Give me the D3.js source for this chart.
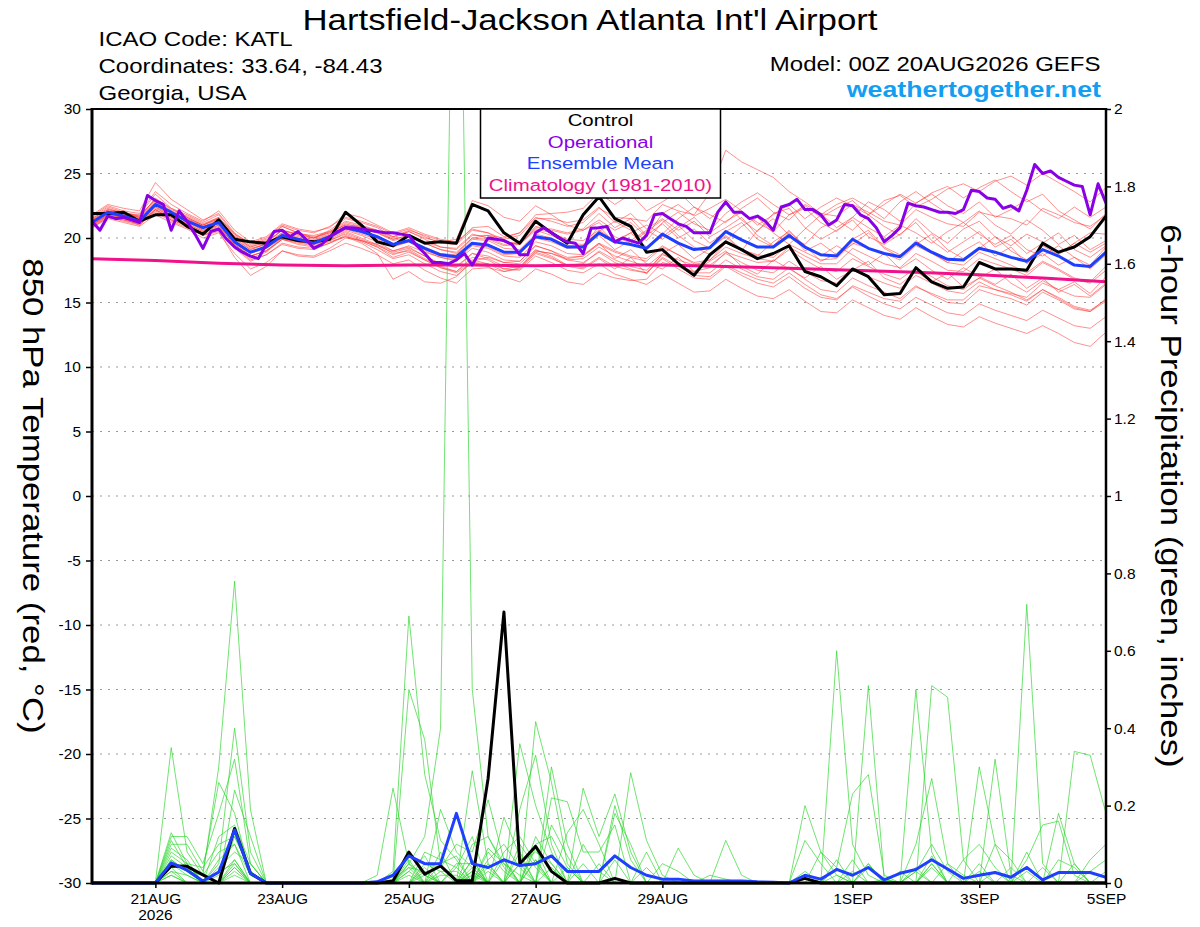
<!DOCTYPE html>
<html>
<head>
<meta charset="utf-8">
<script src="https://cdn.jsdelivr.net/npm/d3@7"></script>
<style>
  body { margin: 0; background: #fff; }
  svg text { font-family: "Liberation Sans", Arial, Helvetica, sans-serif; }
</style>
</head>
<body>
<svg id="chart" width="1200" height="927"></svg>
<script>
// ---- run / time info ----
const runStart = Date.UTC(2026, 7, 20, 0);   // 00Z 20AUG2026
const runEnd = Date.UTC(2026, 8, 5, 0);      // 00Z 05SEP2026
const HOUR = 3600 * 1000;

// ---- axis ticks ----
const tempTicks = [-30, -25, -20, -15, -10, -5, 0, 5, 10, 15, 20, 25, 30];
const gridTemps = [-25, -20, -15, -10, -5, 0, 5, 10, 15, 20, 25];
const precipTicks = [0, 0.2, 0.4, 0.6, 0.8, 1, 1.2, 1.4, 1.6, 1.8, 2];
const precipLabels = ["0", "0.2", "0.4", "0.6", "0.8", "1", "1.2", "1.4", "1.6", "1.8", "2"];
const dateTicks = ["2026-08-21", "2026-08-23", "2026-08-25", "2026-08-27", "2026-08-29", "2026-09-01", "2026-09-03", "2026-09-05"];
const dateLabels = ["21AUG", "23AUG", "25AUG", "27AUG", "29AUG", "1SEP", "3SEP", "5SEP"];

// ---- 850 hPa temperature (C), 6-hourly from 00Z 20AUG ----
const controlTemp = [
  21.9,21.9,22.0,21.3,21.8,21.8,20.9,20.3, 21.4,19.9,19.7,19.6,20.1,19.8,19.7,19.9,
  22.0,21.0,19.7,19.4,20.2,19.6,19.7,19.6, 22.6,22.1,20.4,19.6,21.3,20.4,19.6,21.8,
  23.2,21.5,20.9,18.9,19.1,18.0,17.1,18.7, 19.7,19.1,18.4,18.8,19.4,17.4,17.0,16.3,
  17.6,17.0,15.6,15.7,17.7,16.6,16.1,16.2, 18.1,17.6,17.6,17.5,19.6,18.9,19.3,20.1,
  21.7];
const meanTemp = [
  21.2,22.0,21.7,21.3,22.6,22.0,21.3,20.8, 21.2,19.7,18.9,19.3,20.2,19.9,19.6,20.1,
  20.8,20.5,20.1,19.5,19.8,19.2,18.7,18.55, 19.6,19.45,18.9,18.9,20.1,19.9,19.3,19.3,
  20.4,19.7,19.5,19.2,20.3,19.6,19.1,19.25, 20.5,19.85,19.3,19.3,20.2,19.3,18.7,18.6,
  19.9,19.2,18.8,18.55,19.6,18.9,18.35,18.3, 19.2,18.9,18.5,18.2,19.1,18.6,17.9,17.8,
  18.9];
// operational run, 3-hourly
const operTemp = [
  21.3,20.6,21.7,21.5,21.6,21.4,21.2,23.3, 22.9,22.6,20.6,22.1,21.3,20.3,19.2,20.5,
  20.7,19.9,19.3,18.9,18.6,18.4,19.5,20.5, 20.6,20.1,20.5,19.9,19.2,19.5,20.1,20.5,
  20.8,20.8,20.7,20.6,20.5,20.4,20.4,20.3, 20.2,19.4,18.8,18.1,18.1,18.0,18.3,18.8,
  17.9,19.0,20.0,19.9,19.8,19.5,18.7,18.7, 20.4,20.8,20.4,20.0,19.7,19.6,18.8,20.75,
  20.8,20.9,19.7,20.0,19.8,19.6,20.2,21.8, 21.9,21.5,21.1,20.9,20.4,20.4,20.4,22.0,
  22.8,22.0,22.0,21.5,21.7,21.3,20.6,22.4, 22.6,23.0,22.2,22.2,21.8,21.0,21.4,22.6,
  22.5,21.8,21.5,20.8,19.7,20.2,20.8,22.7, 22.5,22.4,22.2,22.0,22.0,21.9,22.2,23.7,
  23.6,23.1,23.0,22.3,22.5,22.1,23.7,25.7, 25.0,25.2,24.7,24.4,24.1,24.0,21.8,24.2,
  22.7];
// 1981-2010 climatology, daily
const climoTemp = [18.4,18.25,18.05,17.9,17.85,17.9,17.9,17.85,17.9,17.9,17.8,17.65,17.5,17.35,17.15,16.9,16.6];

// ensemble members, 6-hourly
const memberTemp = [
  [21.5,22.3,21.9,21.8,23.4,22.3,21.6,21.0, 21.6,20.3,19.4,19.8,20.9,20.4,20.0,20.6, 21.5,21.2,20.8,20.1,20.6,20.2,19.8,19.6,
   20.8,20.9,20.1,20.4,21.6,21.3,20.9,21.2, 22.3,21.6,21.5,21.3,22.6,22.1,21.8,23.5, 26.8,25.9,25.3,24.7,23.6,22.8,21.9,21.7,
   22.6,22.0,21.3,21.0,22.2,21.6,21.1,20.9, 22.0,21.7,21.5,21.0,22.3,21.8,21.2,20.9, 21.8],
  [20.9,21.7,21.5,21.0,22.1,21.4,21.0,20.3, 20.6,19.2,18.2,18.7,19.5,19.2,19.1,19.6, 20.1,19.8,19.3,18.5,18.9,18.3,17.7,17.4,
   18.5,18.3,17.6,17.5,18.6,18.1,17.5,17.3, 18.0,17.2,16.8,16.4,17.2,16.5,15.8,15.9, 16.8,16.1,15.5,15.3,16.0,15.1,14.3,14.2,
   15.2,14.6,14.0,13.7,14.6,13.9,13.3,13.1, 13.9,13.4,13.0,12.6,13.2,12.6,11.9,11.6, 12.7],
  [21.0,21.8,21.9,21.6,22.9,22.0,21.5,21.0, 21.5,20.0,19.1,19.6,20.6,20.3,20.0,20.5, 21.0,20.9,20.6,20.0,20.5,19.9,19.3,19.2,
   20.3,20.0,19.5,19.6,20.9,20.6,20.3,20.6, 21.4,20.6,21.2,20.1,21.9,22.6,21.7,22.3, 23.0,22.1,21.0,21.8,22.6,21.5,22.4,23.1,
   22.5,21.8,22.9,23.3,22.4,23.0,23.8,24.2, 23.6,24.4,24.8,24.1,25.0,24.3,23.6,22.8, 23.9],
  [21.3,21.9,21.5,21.2,22.3,21.7,21.1,20.5, 21.0,19.4,18.4,18.9,19.9,19.5,19.3,19.8, 20.3,19.8,19.3,18.7,19.1,18.4,17.8,17.4,
   18.3,18.0,17.4,17.6,18.8,18.4,17.9,18.0, 19.0,18.3,17.8,17.5,18.7,18.3,17.9,18.3, 19.6,19.1,18.7,18.5,19.5,18.9,18.3,18.4,
   19.6,19.2,18.8,18.3,19.4,18.8,18.1,17.9, 18.9,18.4,17.9,17.3,18.2,17.6,16.9,16.6, 17.8],
  [21.6,22.4,22.0,21.7,23.0,22.3,21.8,21.2, 21.8,20.3,19.6,20.0,21.0,20.6,20.4,20.9, 21.6,21.3,20.9,20.3,20.7,20.1,19.6,19.5,
   20.6,20.4,19.9,20.2,21.5,21.5,21.2,21.4, 22.4,21.2,21.9,20.7,21.5,20.6,21.3,20.1, 20.8,21.6,20.2,19.4,20.6,19.3,18.6,19.4,
   18.7,17.9,18.8,17.6,18.4,17.5,16.8,17.7, 17.0,16.4,17.2,16.1,16.9,15.8,16.4,15.5, 16.5],
  [20.8,21.5,21.2,20.9,21.8,21.2,20.7,20.0, 20.4,18.8,17.6,18.1,19.0,18.6,18.5,19.0, 19.6,19.2,18.7,18.0,18.3,17.5,16.9,16.5,
   17.6,17.7,17.4,17.7,19.0,18.8,18.3,18.4, 19.3,18.6,18.2,17.8,18.8,18.0,17.3,17.3, 18.3,17.6,17.0,16.8,17.7,16.8,16.0,15.8,
   16.9,16.3,15.8,15.3,16.3,15.6,15.0,14.9, 16.0,15.6,15.3,14.8,15.8,15.2,14.5,14.3, 15.3],
  [21.8,22.6,22.3,22.1,24.3,23.0,22.2,21.4, 21.9,20.4,19.5,19.9,20.9,20.4,20.1,20.4, 21.0,20.6,20.1,19.4,19.8,19.3,18.8,18.7,
   19.9,19.8,19.2,19.1,20.3,20.0,19.4,19.4, 20.9,19.6,20.4,21.0,20.3,21.5,22.4,21.8, 21.2,22.3,23.1,22.0,21.4,22.6,21.9,20.8,
   21.6,22.8,22.2,21.3,22.7,23.4,22.5,21.9, 22.8,21.6,22.2,23.0,22.1,21.5,22.4,21.6, 22.4],
  [21.1,21.8,21.6,21.3,22.4,21.6,21.2,20.6, 21.3,19.7,18.6,19.0,19.9,19.7,19.6,20.0, 20.6,20.2,19.7,19.0,19.3,18.6,18.0,17.8,
   18.8,18.4,17.8,17.7,18.9,18.5,17.8,17.6, 18.4,17.6,18.5,17.2,18.8,19.5,18.4,19.2, 20.1,19.0,20.6,21.5,20.2,19.5,20.8,21.4,
   20.6,21.8,20.9,20.2,21.5,20.4,19.6,20.7, 21.3,20.1,19.4,20.3,19.7,18.8,19.6,20.4, 20.3],
  [21.4,22.1,21.8,21.6,22.7,22.0,21.5,20.9, 21.4,20.1,19.2,19.5,20.4,20.1,19.9,20.3, 21.1,20.8,20.4,19.9,20.2,19.7,19.3,19.1,
   20.2,20.2,19.7,19.6,20.7,20.4,19.9,19.8, 20.6,19.8,20.4,19.3,20.1,21.0,19.8,19.2, 20.2,19.1,18.6,19.7,20.5,19.4,18.2,18.8,
   19.9,20.6,19.3,18.7,19.5,20.3,19.1,18.4, 19.2,20.1,19.0,18.3,19.4,18.7,19.6,18.9, 19.6],
  [20.9,21.6,21.3,21.0,22.2,21.5,21.0,20.4, 20.8,19.5,18.6,19.0,19.9,19.6,19.4,19.7, 20.1,19.6,18.8,16.8,17.4,16.6,16.5,17.0,
   18.2,18.5,18.1,18.0,19.1,18.6,17.9,17.7, 18.5,17.8,17.5,17.3,18.5,17.8,17.1,17.0, 17.9,17.3,16.8,16.5,17.3,16.4,15.6,15.3,
   16.2,15.5,14.9,14.5,15.4,14.8,14.2,14.0, 14.9,14.4,14.0,13.6,14.4,13.8,13.2,13.0, 13.9],
  [21.2,22.0,21.8,21.5,22.8,22.0,21.4,20.8, 21.1,19.9,19.1,19.5,20.4,20.0,19.8,20.2, 20.9,20.7,20.4,19.8,20.1,19.6,19.1,18.8,
   20.0,20.2,20.0,20.4,21.8,21.9,22.0,22.3, 23.5,22.6,23.4,22.1,22.8,23.6,22.4,21.5, 22.6,21.4,20.5,21.9,22.3,20.8,19.9,20.6,
   21.4,20.1,19.5,20.3,21.2,19.8,18.9,19.7, 20.5,19.3,19.9,18.8,19.6,20.4,19.1,18.5, 19.4],
  [21.0,21.7,21.4,21.1,22.2,21.4,20.9,20.2, 20.5,18.5,17.1,17.8,19.0,18.7,18.6,19.2, 20.0,19.8,19.5,19.0,19.4,18.9,18.5,18.3,
   19.4,19.2,18.6,18.5,19.7,19.4,18.8,18.7, 19.6,18.4,19.1,18.0,17.6,18.5,17.4,18.2, 19.0,17.8,17.2,18.3,17.6,16.9,17.8,16.8,
   17.5,18.2,16.9,16.4,17.4,16.6,17.3,16.2, 16.9,17.6,16.5,15.8,16.7,16.0,16.6,15.7, 17.0],
  [21.5,22.2,22.0,21.6,23.1,22.2,21.7,21.1, 21.6,20.2,19.3,19.7,20.6,20.3,20.2,20.5, 21.3,21.0,20.6,20.1,20.5,20.0,19.7,19.9,
   22.9,22.5,21.6,21.3,22.5,21.8,21.0,20.6, 21.2,20.1,19.6,20.5,21.4,20.2,19.3,18.7, 19.8,20.9,21.6,20.4,19.5,20.7,21.8,22.6,
   23.1,22.4,21.5,22.8,23.6,22.7,21.9,21.2, 22.1,21.0,20.3,21.4,20.6,19.5,20.2,19.1, 19.8],
  [21.1,21.9,21.6,21.3,22.4,21.8,21.3,20.6, 21.0,19.6,18.8,19.2,20.0,19.7,19.5,19.9, 20.5,20.0,19.5,18.8,19.0,18.3,17.7,17.3,
   18.1,17.8,17.0,16.6,17.6,17.2,16.6,16.4, 17.3,16.9,16.7,16.8,18.1,17.8,17.4,17.7, 18.9,18.5,18.1,18.2,19.3,18.6,18.0,18.0,
   19.2,18.6,18.0,17.7,18.8,18.2,17.5,17.4, 18.4,18.0,17.6,17.1,18.1,17.5,16.8,16.5, 17.5],
  [21.3,22.1,21.7,21.5,22.6,22.0,21.4,20.9, 21.2,19.8,18.9,19.4,20.3,19.9,19.6,20.0, 20.7,20.3,19.9,19.3,19.7,19.1,18.6,18.4,
   19.5,19.3,18.7,18.8,20.0,19.7,19.2,19.3, 20.2,19.1,19.8,20.6,19.9,20.8,21.6,20.4, 21.3,22.0,21.2,20.5,21.8,22.5,21.6,22.3,
   22.9,21.8,22.6,23.4,22.7,23.5,24.0,23.1, 23.9,24.5,23.6,22.8,23.4,22.1,21.4,20.7, 21.9],
  [21.2,21.9,21.6,21.4,22.5,21.8,21.3,20.7, 21.2,19.8,18.9,19.3,20.3,19.9,19.8,20.2, 20.9,20.5,20.0,19.4,19.7,19.0,18.5,18.2,
   19.2,18.9,18.3,18.2,19.4,19.0,18.3,18.1, 18.9,18.1,17.6,17.3,18.4,17.6,16.9,16.8, 17.8,17.1,16.5,16.2,17.0,16.1,15.4,15.2,
   16.3,15.8,15.3,15.1,16.2,15.7,15.2,15.2, 16.3,16.0,15.7,15.4,16.5,16.0,15.5,15.4, 16.4],
  [21.7,22.5,22.1,21.9,23.6,22.6,21.9,21.3, 22.1,20.6,19.7,20.1,21.1,20.7,20.5,20.8, 21.9,21.6,21.0,20.4,20.8,20.3,19.9,19.7,
   20.7,20.4,19.7,19.5,20.6,20.2,19.6,19.5, 20.5,21.3,20.6,19.8,21.2,22.0,21.1,20.6, 21.9,22.8,23.5,22.6,21.8,22.3,21.2,20.5,
   21.6,20.8,20.1,21.0,20.4,19.6,20.5,21.2, 20.3,19.5,20.2,19.1,18.6,19.4,18.5,17.9, 19.3],
  [21.0,21.8,21.5,21.2,22.2,21.6,21.1,20.5, 20.9,19.5,18.6,19.0,20.0,19.7,19.5,19.8, 20.4,19.9,19.4,18.9,19.2,18.6,18.0,17.7,
   18.8,18.6,18.1,18.2,19.4,19.0,18.5,18.6, 19.6,19.0,18.6,18.4,19.4,18.7,18.0,17.9, 18.8,18.1,17.5,17.3,18.2,17.4,16.7,16.5,
   17.5,17.0,16.5,16.1,17.1,16.5,15.9,15.7, 16.6,16.0,15.6,15.1,16.0,15.3,14.6,14.3, 15.1],
  [21.4,22.2,21.9,21.7,23.0,22.1,21.6,21.0, 21.5,20.1,19.3,19.7,20.6,20.2,20.0,20.4, 21.2,20.9,20.5,19.9,20.2,19.6,19.1,18.9,
   20.0,19.9,19.4,19.5,20.8,20.7,20.4,20.7, 21.9,20.8,21.5,20.2,21.1,20.0,20.7,19.6, 20.5,21.2,19.9,19.3,20.4,19.0,19.6,18.7,
   19.5,20.4,19.2,18.5,19.8,18.9,18.1,19.0, 19.7,18.6,19.3,18.0,18.8,17.9,18.5,17.6, 18.7],
  [20.8,21.6,21.4,21.1,22.0,21.3,20.8,20.2, 20.7,19.3,18.3,18.7,19.6,19.3,19.2,19.6, 20.2,19.7,19.1,18.4,18.7,18.0,17.4,17.1,
   18.1,18.0,17.6,17.8,19.0,18.8,18.4,18.6, 19.5,18.9,18.5,18.2,19.3,18.7,18.1,18.3, 19.3,18.8,18.4,18.2,19.1,18.3,17.6,17.4,
   18.4,17.8,17.2,16.8,17.7,17.0,16.3,16.0, 16.9,16.3,15.8,15.2,16.0,15.4,14.7,14.4, 15.2]
];

// ---- 6-hour precipitation (inches), 6-hourly ----
const controlPrecip = [
  0,0,0,0,0,0.044,0.043,0.021, 0,0.141,0.025,0,0,0,0,0,
  0,0,0,0.005,0.08,0.023,0.044,0.006, 0.006,0.27,0.70,0.05,0.095,0.03,0,0,
  0,0.012,0,0,0,0,0,0, 0,0,0,0,0,0.012,0,0,
  0,0,0,0,0,0,0,0, 0,0,0,0,0,0,0,0,
  0];
const meanPrecip = [
  0,0,0,0,0,0.052,0.033,0.005, 0.028,0.137,0.025,0,0,0,0,0,
  0,0,0.003,0.02,0.07,0.05,0.05,0.18, 0.05,0.04,0.06,0.045,0.05,0.07,0.03,0.03,
  0.03,0.07,0.04,0.02,0.01,0.01,0.005,0.005, 0.005,0.005,0.003,0.002,0,0.02,0.01,0.035,
  0.02,0.04,0.008,0.025,0.035,0.06,0.036,0.012, 0.02,0.027,0.015,0.04,0.008,0.027,0.027,0.027,
  0.015];
const memberPrecip = [
  [0,0,0,0,0,0.06,0.03,0, 0,0.12,0.03,0,0,0,0,0, 0,0,0,0,0.05,0.12,0.40,3.2, 0.50,0.12,0.05,0.02,0,0,0,0,
   0,0,0,0,0,0,0,0, 0,0,0,0,0,0,0,0.02, 0,0.05,0,0,0.03,0,0,0, 0,0,0,0,0,0,0,0, 0],
  [0,0,0,0,0,0.35,0.08,0.02, 0.30,0.78,0.19,0,0,0,0,0, 0,0,0,0,0.03,0.07,0,0, 0.06,0,0,0.08,0,0,0,0,
   0,0,0,0,0,0,0,0, 0,0,0,0,0,0.03,0,0, 0,0,0,0,0,0.05,0,0, 0,0,0,0,0,0,0,0, 0],
  [0,0,0,0,0,0.13,0.05,0, 0.05,0.40,0.08,0,0,0,0,0, 0,0,0,0.03,0.69,0.28,0.11,0.06, 0,0.04,0,0,0.12,0.05,0,0,
   0,0,0,0,0,0,0,0, 0,0,0,0,0,0,0,0.60, 0.10,0.02,0,0,0,0,0,0, 0.03,0,0,0,0,0,0,0, 0],
  [0,0,0,0,0,0.12,0.12,0.05, 0.18,0.32,0.05,0,0,0,0,0, 0,0,0,0,0.50,0.37,0.05,0, 0.03,0,0.17,0.07,0,0.30,0.10,0,
   0,0,0,0,0,0,0,0, 0,0,0,0,0,0,0,0, 0,0,0,0,0,0.51,0.48,0.06, 0,0,0,0,0,0,0,0, 0],
  [0,0,0,0,0,0.11,0.04,0, 0,0.24,0.12,0,0,0,0,0, 0,0,0.02,0.245,0.05,0.02,0,0, 0.29,0.05,0,0,0.06,0,0,0.245,
   0.12,0.23,0.08,0,0,0,0,0, 0,0,0,0,0,0,0,0, 0,0,0,0,0,0,0,0, 0,0,0,0.72,0.05,0,0,0, 0],
  [0,0,0,0,0,0.10,0.10,0.03, 0.26,0.18,0.02,0,0,0,0,0, 0,0,0,0,0,0,0.19,0.08, 0.04,0,0,0.36,0.20,0.08,0,0,
   0,0,0.285,0.11,0.02,0,0,0, 0,0,0,0,0,0,0,0, 0,0.51,0.01,0,0.10,0.27,0.05,0, 0,0,0,0,0,0,0,0, 0],
  [0,0,0,0,0,0.09,0.06,0, 0.12,0.15,0.05,0,0,0,0,0, 0,0,0,0,0,0.05,0.04,0.10, 0.08,0.215,0.06,0,0.417,0.26,0.05,0,
   0,0.20,0.06,0,0,0.09,0.02,0, 0,0,0,0,0,0,0,0, 0,0,0,0,0,0,0,0, 0,0.32,0.02,0,0,0,0.34,0.33, 0.18],
  [0,0,0,0,0,0.08,0.05,0.04, 0.10,0.12,0.03,0,0,0,0,0, 0,0,0,0,0.07,0.05,0.03,0, 0.10,0.12,0.04,0,0,0.22,0.21,0.08,
   0.08,0.15,0,0.08,0,0,0,0, 0,0,0,0,0,0.20,0.08,0.04, 0.23,0.28,0.02,0,0,0,0,0, 0,0,0,0,0,0,0,0, 0],
  [0,0,0,0,0,0.07,0.04,0, 0.06,0.10,0.02,0,0,0,0,0, 0,0,0,0,0,0.08,0.06,0.04, 0.12,0,0,0.19,0.33,0.10,0,0,
   0,0.18,0.10,0,0,0,0,0, 0.11,0.02,0,0,0,0,0,0, 0,0,0,0,0.50,0.08,0,0, 0.30,0.10,0,0,0,0,0,0, 0],
  [0,0,0,0,0,0.06,0.03,0, 0.04,0.08,0.05,0,0,0,0,0, 0,0,0,0,0.02,0,0.05,0.07, 0,0.08,0.03,0,0.06,0,0.13,0.19,
   0.10,0,0,0,0,0,0,0, 0,0,0,0,0,0.11,0.05,0, 0,0,0,0,0,0,0,0, 0,0,0,0.06,0.15,0.16,0.02,0, 0],
  [0,0,0,0,0,0.05,0.02,0, 0.02,0.06,0,0,0,0,0,0, 0,0,0,0.01,0.04,0.03,0,0.05, 0.05,0,0,0.05,0.08,0.05,0,0,
   0,0,0,0,0.05,0.03,0,0, 0,0,0,0,0,0,0,0, 0.06,0,0,0,0.03,0.10,0.03,0, 0,0,0,0,0,0.18,0.05,0, 0],
  [0,0,0,0,0,0.04,0,0, 0.03,0.05,0,0,0,0,0,0, 0,0,0,0,0,0,0.03,0.03, 0,0.06,0.10,0.04,0,0,0,0.05,
   0,0,0,0,0,0,0,0, 0,0,0,0,0,0,0,0.04, 0,0,0,0.03,0,0.05,0,0, 0,0.10,0.06,0,0,0,0,0.03, 0.06],
  [0,0,0,0,0,0.03,0.02,0, 0,0.04,0,0,0,0,0,0, 0,0,0,0,0.03,0,0,0, 0.02,0,0.08,0.12,0.05,0,0,0,
   0,0,0,0,0,0,0,0, 0,0,0,0,0,0,0.08,0.02, 0,0,0.01,0,0,0,0,0.06, 0.10,0.04,0,0,0,0,0,0, 0],
  [0,0,0,0,0,0.02,0,0, 0,0.03,0,0,0,0,0,0, 0,0,0,0,0,0.02,0,0.04, 0,0.03,0,0,0.10,0.12,0.04,0,
   0,0,0,0,0,0,0,0, 0,0,0,0,0,0,0,0, 0,0.05,0,0,0,0.07,0,0, 0,0,0,0.03,0,0.06,0.04,0, 0],
  [0,0,0,0,0,0.05,0.03,0.02, 0.08,0.10,0,0,0,0,0,0, 0,0,0,0,0.05,0,0.08,0, 0.04,0,0,0.10,0.04,0,0,0,
   0,0,0,0,0,0,0,0.02, 0.01,0,0,0,0,0,0,0, 0,0,0,0,0,0,0.05,0.02, 0,0,0,0,0.04,0,0,0, 0],
  [0,0,0,0,0,0.04,0.05,0, 0,0.06,0,0,0,0,0,0, 0,0,0,0,0,0.03,0,0, 0,0.09,0.05,0,0,0.15,0.07,0,
   0.05,0,0,0.04,0,0,0,0, 0,0,0,0,0,0,0,0, 0.03,0,0,0,0.04,0,0,0, 0,0,0,0,0,0,0,0.06, 0.10],
  [0,0,0,0,0,0,0,0, 0,0.02,0,0,0,0,0,0, 0,0,0,0,0.06,0,0,0, 0.03,0,0,0.05,0,0,0,0.10,
   0.03,0,0,0,0,0,0,0, 0,0,0,0,0,0,0,0, 0,0,0,0,0,0,0,0, 0.05,0,0,0.08,0,0,0,0, 0.03],
  [0,0,0,0,0,0.03,0,0, 0,0.05,0,0,0,0,0,0, 0,0,0,0,0,0,0.02,0.02, 0,0,0.06,0,0.09,0,0,0,
   0,0,0,0,0,0,0,0, 0,0,0,0,0,0,0,0.06, 0,0.04,0,0,0,0,0,0, 0,0,0,0,0,0,0,0, 0],
  [0,0,0,0,0,0.02,0,0, 0,0,0,0,0,0,0,0, 0,0,0,0,0.04,0,0,0, 0,0.05,0,0,0,0,0.04,0,
   0,0,0,0,0,0,0,0, 0,0,0,0,0,0,0,0, 0,0,0,0,0,0.04,0,0, 0,0.03,0,0,0,0,0.05,0, 0],
  [0,0,0,0,0,0,0,0, 0,0.04,0,0,0,0,0,0, 0,0,0,0,0,0.04,0,0, 0.06,0,0,0,0,0.04,0,0,
   0,0.06,0,0,0,0,0,0, 0,0,0,0,0,0,0,0, 0,0,0,0,0,0,0,0, 0,0,0.04,0,0,0,0,0, 0]
];

// ---- layout ----
const svg = d3.select("#chart");
const plotLeft = 92, plotRight = 1106, plotTop = 109, plotBottom = 883;

const x = d3.scaleUtc().domain([new Date(runStart), new Date(runEnd)]).range([plotLeft, plotRight]);
const yT = d3.scaleLinear().domain([-30, 30]).range([plotBottom, plotTop]);
const yP = d3.scaleLinear().domain([0, 2]).range([plotBottom, plotTop]);

const at6 = i => new Date(runStart + i * 6 * HOUR);
const at3 = i => new Date(runStart + i * 3 * HOUR);
const at24 = i => new Date(runStart + i * 24 * HOUR);

function addText(parent, str, o) {
  let tr = `translate(${o.x},${o.y})`;
  if (o.rotate) tr += ` rotate(${o.rotate})`;
  tr += ` scale(${o.sx || 1},1)`;
  const t = parent.append("text")
    .attr("transform", tr)
    .attr("text-anchor", o.anchor || "start")
    .attr("font-size", o.size)
    .attr("fill", o.color || "#000")
    .text(str);
  if (o.weight) t.attr("font-weight", o.weight);
  if (o.dy) t.attr("dy", o.dy);
  return t;
}

// header texts
addText(svg, "Hartsfield-Jackson Atlanta Int'l Airport", { x: 590, y: 29.5, size: 29, sx: 1.2, anchor: "middle" });
addText(svg, "ICAO Code: KATL", { x: 98.5, y: 46, size: 20, sx: 1.2 });
addText(svg, "Coordinates: 33.64, -84.43", { x: 98.5, y: 73, size: 20, sx: 1.2 });
addText(svg, "Georgia, USA", { x: 98.5, y: 99.5, size: 20, sx: 1.2 });
addText(svg, "Model: 00Z 20AUG2026 GEFS", { x: 1100.5, y: 70.5, size: 20, sx: 1.2, anchor: "end" });
addText(svg, "weathertogether.net", { x: 1101, y: 96.5, size: 22.3, sx: 1.2, anchor: "end", weight: "bold", color: "#139ef2" });

// axis titles
addText(svg, "850 hPa Temperature (red, \u00B0C)", { x: 33, y: 496, size: 29, sx: 1.2, anchor: "middle", rotate: 90, dy: "0.35em" });
addText(svg, "6-hour Precipitation (green, inches)", { x: 1171, y: 496, size: 29, sx: 1.2, anchor: "middle", rotate: 90, dy: "0.35em" });

// dotted grid
svg.append("g").selectAll("line").data(gridTemps).join("line")
  .attr("x1", plotLeft).attr("x2", plotRight)
  .attr("y1", d => yT(d)).attr("y2", d => yT(d))
  .attr("stroke", "#9a9a9a").attr("stroke-width", 1.2)
  .attr("stroke-dasharray", "2,6");

// clip for data
svg.append("defs").append("clipPath").attr("id", "plotClip")
  .append("rect").attr("x", plotLeft).attr("y", plotTop)
  .attr("width", plotRight - plotLeft).attr("height", plotBottom - plotTop + 3);

const plot = svg.append("g").attr("clip-path", "url(#plotClip)");

const lineT6 = d3.line().x((d, i) => x(at6(i))).y(d => yT(d));
const lineT3 = d3.line().x((d, i) => x(at3(i))).y(d => yT(d));
const lineT24 = d3.line().x((d, i) => x(at24(i))).y(d => yT(d));
const lineP6 = d3.line().x((d, i) => x(at6(i))).y(d => yP(d));

// members
plot.append("g").selectAll("path").data(memberTemp).join("path")
  .attr("d", lineT6).attr("fill", "none")
  .attr("stroke", "#ff2a2a").attr("stroke-opacity", 0.65).attr("stroke-width", 0.8);
plot.append("g").selectAll("path").data(memberPrecip).join("path")
  .attr("d", lineP6).attr("fill", "none")
  .attr("stroke", "#2cd62c").attr("stroke-opacity", 0.85).attr("stroke-width", 0.8);

// main curves
plot.append("path").attr("d", lineT24(climoTemp)).attr("fill", "none")
  .attr("stroke", "#f0128a").attr("stroke-width", 3);
plot.append("path").attr("d", lineT6(controlTemp)).attr("fill", "none")
  .attr("stroke", "#000").attr("stroke-width", 3).attr("stroke-linejoin", "round");
plot.append("path").attr("d", lineT6(meanTemp)).attr("fill", "none")
  .attr("stroke", "#1f3fff").attr("stroke-width", 3).attr("stroke-linejoin", "round");
plot.append("path").attr("d", lineT3(operTemp)).attr("fill", "none")
  .attr("stroke", "#8a00e6").attr("stroke-width", 3).attr("stroke-linejoin", "round");
plot.append("path").attr("d", lineP6(controlPrecip)).attr("fill", "none")
  .attr("stroke", "#000").attr("stroke-width", 3).attr("stroke-linejoin", "round");
plot.append("path").attr("d", lineP6(meanPrecip)).attr("fill", "none")
  .attr("stroke", "#1f3fff").attr("stroke-width", 3).attr("stroke-linejoin", "round");

// axes
const tickFont = 15.5;
const gL = svg.append("g").attr("transform", `translate(${plotLeft},0)`)
  .call(d3.axisLeft(yT).tickValues(tempTicks).tickSize(6).tickPadding(5).tickFormat(d => String(d)));
const gR = svg.append("g").attr("transform", `translate(${plotRight},0)`)
  .call(d3.axisRight(yP).tickValues(precipTicks).tickSize(5).tickPadding(3).tickFormat((d, i) => precipLabels[i]));
const gB = svg.append("g").attr("transform", `translate(0,${plotBottom})`)
  .call(d3.axisBottom(x).tickValues(dateTicks.map(s => new Date(s + "T00:00:00Z"))).tickSize(5).tickPadding(5)
    .tickFormat((d, i) => dateLabels[i]));
[gL, gR, gB].forEach(g => {
  g.select(".domain").remove();
  g.selectAll(".tick line").attr("stroke", "#000").attr("stroke-width", 1.5);
  g.selectAll(".tick text").attr("font-size", tickFont).attr("fill", "#000")
    .attr("font-family", "'Liberation Sans', Arial, sans-serif");
});
addText(svg, "2026", { x: x(new Date(dateTicks[0] + "T00:00:00Z")), y: 920, size: tickFont, anchor: "middle" });

// frame
const frame = svg.append("g").attr("stroke", "#000").attr("fill", "none");
frame.append("line").attr("x1", plotLeft).attr("x2", plotRight).attr("y1", plotTop).attr("y2", plotTop).attr("stroke-width", 2.2);
frame.append("line").attr("x1", plotLeft).attr("x2", plotRight).attr("y1", plotBottom).attr("y2", plotBottom).attr("stroke-width", 3);
frame.append("line").attr("x1", plotLeft).attr("x2", plotLeft).attr("y1", plotTop - 1).attr("y2", plotBottom + 1.5).attr("stroke-width", 3);
frame.append("line").attr("x1", plotRight).attr("x2", plotRight).attr("y1", plotTop - 1).attr("y2", plotBottom + 1.5).attr("stroke-width", 2.5);

// legend
const leg = svg.append("g");
leg.append("rect").attr("x", 480.5).attr("y", plotTop).attr("width", 240).attr("height", 89)
  .attr("fill", "#fff").attr("stroke", "#000").attr("stroke-width", 1.5);
const legendItems = [
  ["Control", "#000000", 125.7],
  ["Operational", "#8a00e6", 147.7],
  ["Ensemble Mean", "#1f3fff", 169.3],
  ["Climatology (1981-2010)", "#f0128a", 191]
];
legendItems.forEach(([name, col, yy]) => {
  addText(leg, name, { x: 600.5, y: yy, size: 17, sx: 1.2, anchor: "middle", color: col });
});
</script>
</body>
</html>
